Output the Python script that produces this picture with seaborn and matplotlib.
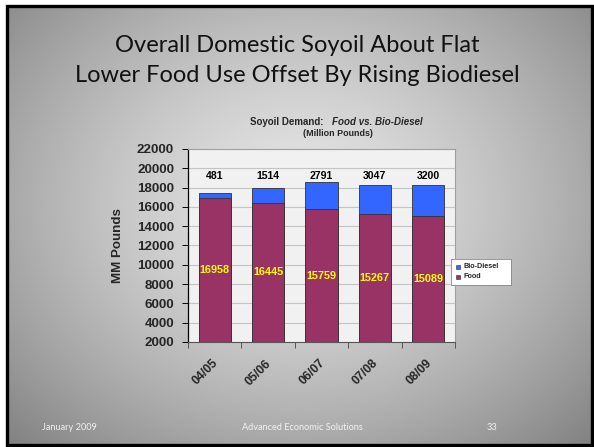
import numpy as np
import pandas as pd
import matplotlib
matplotlib.use("Agg")
import matplotlib.pyplot as plt
from matplotlib.patches import Rectangle
import seaborn as sns

# Soyoil demand by marketing year (million pounds)
seasons = ["04/05", "05/06", "06/07", "07/08", "08/09"]
food = [16958, 16445, 15759, 15267, 15089]
biodiesel = [481, 1514, 2791, 3047, 3200]
y_ticks = [2000, 4000, 6000, 8000, 10000, 12000, 14000, 16000, 18000, 20000, 22000]

df = pd.DataFrame({"season": seasons, "Food": food, "Bio-Diesel": biodiesel})
df["total"] = df["Food"] + df["Bio-Diesel"]

sns.set_theme(style="white")
plt.rcParams["font.family"] = ["Liberation Sans", "DejaVu Sans"]

W, H = 594, 447
fig = plt.figure(figsize=(W / 100, H / 100), dpi=100)
fig.patch.set_facecolor("white")

# slide background: radial grey gradient inside a black frame
bg = fig.add_axes([0, 0, 1, 1])
bg.set_xlim(0, W)
bg.set_ylim(H, 0)
bg.axis("off")
yy, xx = np.mgrid[0:H, 0:W]
r = np.sqrt(((xx - 297) / 330.0) ** 2 + ((yy - 200) / 270.0) ** 2)
val = np.clip(0.90 - 0.28 * r ** 1.4, 0, 1)
img = np.dstack([val, val, val])
bg.imshow(img, extent=(6, 593, 446, 5), zorder=0, aspect="auto")
bg.add_patch(Rectangle((7, 6), 585, 439, fill=False, edgecolor="black", lw=2.4, zorder=2))

# slide title
title_font = ["Lato", "DejaVu Sans"]
bg.text(297, 46, "Overall Domestic Soyoil About Flat", ha="center", va="center",
        fontsize=17, family=title_font, color="#111111")
bg.text(297, 75, "Lower Food Use Offset By Rising Biodiesel", ha="center", va="center",
        fontsize=17, family=title_font, color="#111111")

# footer
foot_kw = dict(va="center", fontsize=6.6, family=title_font, color="#f2f2f2")
bg.text(42, 428, "January 2009", ha="left", **foot_kw)
bg.text(302, 428, "Advanced Economic Solutions", ha="center", **foot_kw)
bg.text(497, 428, "33", ha="right", **foot_kw)

# chart title
bg.text(323, 122, "Soyoil Demand:", ha="right", va="center", fontsize=7.0, fontweight="bold")
bg.text(332, 122, "Food vs. Bio-Diesel", ha="left", va="center", fontsize=7.0,
        fontweight="bold", fontstyle="italic")
bg.text(338, 133, "(Million Pounds)", ha="center", va="center", fontsize=6.4, fontweight="bold")

# plot area
ax = fig.add_axes([188 / W, 1 - 342 / H, (455 - 188) / W, (342 - 149) / H])
ax.set_facecolor("#f1f1f1")

sns.barplot(data=df, x="season", y="total", color="#3366ff", width=0.6,
            edgecolor="#333333", linewidth=0.6, saturation=1, ax=ax, zorder=3)
sns.barplot(data=df, x="season", y="Food", color="#993366", width=0.6,
            edgecolor="#333333", linewidth=0.6, saturation=1, ax=ax, zorder=4)

ax.set_ylim(2000, 22000)
ax.set_xlim(-0.5, len(seasons) - 0.5)
ax.set_yticks(y_ticks)
ax.set_yticklabels([str(v) for v in y_ticks], fontsize=9.6, fontweight="bold")
ax.yaxis.grid(True, color="#c4c4c4", lw=0.8, zorder=0)
ax.set_axisbelow(True)

ax.set_xticks(range(len(seasons)))
ax.set_xticklabels(seasons, rotation=45, ha="right", va="top", rotation_mode="anchor",
                   fontsize=8.8, fontweight="bold")
ax.tick_params(axis="x", length=0, pad=11)
ax.set_xticks(np.arange(len(seasons) + 1) - 0.5, minor=True)
ax.tick_params(axis="x", which="minor", length=4, width=0.7, color="#555555", direction="out",
               bottom=True)
ax.tick_params(axis="y", length=4, width=0.7, color="black", direction="out", left=True, pad=6)
for lbl in ax.get_xticklabels():
    lbl.set_transform(lbl.get_transform() + matplotlib.transforms.ScaledTranslation(-2 / 72, 0, fig.dpi_scale_trans))

ax.set_xlabel("")
ax.set_ylabel("MM Pounds", fontsize=9.6, fontweight="bold", labelpad=9)

for side in ["top", "right"]:
    ax.spines[side].set_color("#a0a0a0")
    ax.spines[side].set_linewidth(0.8)
ax.spines["left"].set_color("black")
ax.spines["left"].set_linewidth(0.9)
ax.spines["bottom"].set_color("#555555")
ax.spines["bottom"].set_linewidth(0.8)

# value labels
for i, row in df.iterrows():
    ax.text(i, 19200, f"{row['Bio-Diesel']}", ha="center", va="center",
            fontsize=7.6, fontweight="bold", color="black", zorder=6)
    ax.text(i, (2000 + row["Food"]) / 2, f"{row['Food']}", ha="center", va="center",
            fontsize=7.8, fontweight="bold", color="#ffff00", zorder=6)

# legend
lax = fig.add_axes([451 / W, 1 - 285 / H, (511 - 451) / W, (285 - 259) / H])
lax.set_xlim(0, 60)
lax.set_ylim(26, 0)
lax.set_xticks([])
lax.set_yticks([])
lax.set_facecolor("white")
for s in lax.spines.values():
    s.set_color("#888888")
    s.set_linewidth(0.6)
lax.add_patch(Rectangle((5, 6), 4, 4, facecolor="#3366ff", edgecolor="#333333", lw=0.4))
lax.add_patch(Rectangle((5, 16), 4, 4, facecolor="#993366", edgecolor="#333333", lw=0.4))
lax.text(12, 8, "Bio-Diesel", va="center", ha="left", fontsize=5.2, fontweight="bold")
lax.text(12, 18, "Food", va="center", ha="left", fontsize=5.2, fontweight="bold")

fig.savefig("out.png", dpi=100)
